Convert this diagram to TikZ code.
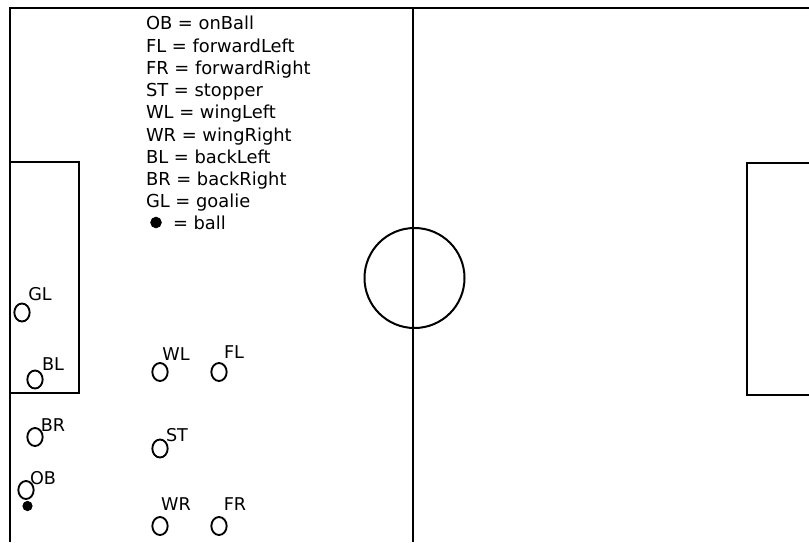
\documentclass[tikz,border=0pt]{standalone}
\usepackage{fontspec}
\setmainfont{DejaVu Sans}
\usetikzlibrary{shapes.geometric}

\begin{document}
\begin{tikzpicture}[x=0.75pt, y=-0.75pt, line width=1.5pt,
  every node/.style={font=\fontsize{13.2}{15}\selectfont},
  player/.style={draw, ellipse, inner sep=0pt, minimum width=11.5pt, minimum height=13.5pt, line width=1.4pt},
  tag/.style={inner sep=0pt},
  ball/.style={circle, draw, fill=black, inner sep=0pt, minimum size=7pt, line width=0.6pt},
  legend/.style={anchor=base west, inner sep=0pt, font=\fontsize{13.4}{16}\selectfont}]
  \useasboundingbox (0,0) rectangle (809,542);

  % Field lines
  \draw (10,542) -- (10,8) -- (809,8);
  \draw (413,8) -- (413,542);
  \draw (414.5,278) circle[radius=37.5pt];
  \draw (10,162) -- (79,162) -- (79,393) -- (10,393);
  \draw (809,163) -- (747,163) -- (747,395) -- (809,395);

  % Legend
  \foreach \abbr/\full [count=\i from 0] in {OB/onBall, FL/forwardLeft, FR/forwardRight, ST/stopper, WL/wingLeft, WR/wingRight, BL/backLeft, BR/backRight, GL/goalie}
    \node[legend] (key-\abbr) at (145, {30+22.2*\i}) {\abbr\ = \full};
  \node[ball, minimum size=8pt] (key-ball) at (156,222.5) {};
  \node[legend] (key-text) at (172,229) {= ball};

  % Players
  \foreach \name/\x/\y/\lx/\ly in {GL/22/312.5/40/294, BL/35/379.5/53/364, BR/35/437/53/425, OB/26/490/43/478,
      WL/160/372/176/354, FL/219/372/234/352, ST/160/448.5/177/435, WR/160/526/176/504, FR/219/526/235/504} {
    \node[player] (\name) at (\x,\y) {};
    \node[tag] (\name-tag) at (\lx,\ly) {\name};
  }

  % Ball
  \node[ball] (ball) at (27.5,506) {};
\end{tikzpicture}
\end{document}
